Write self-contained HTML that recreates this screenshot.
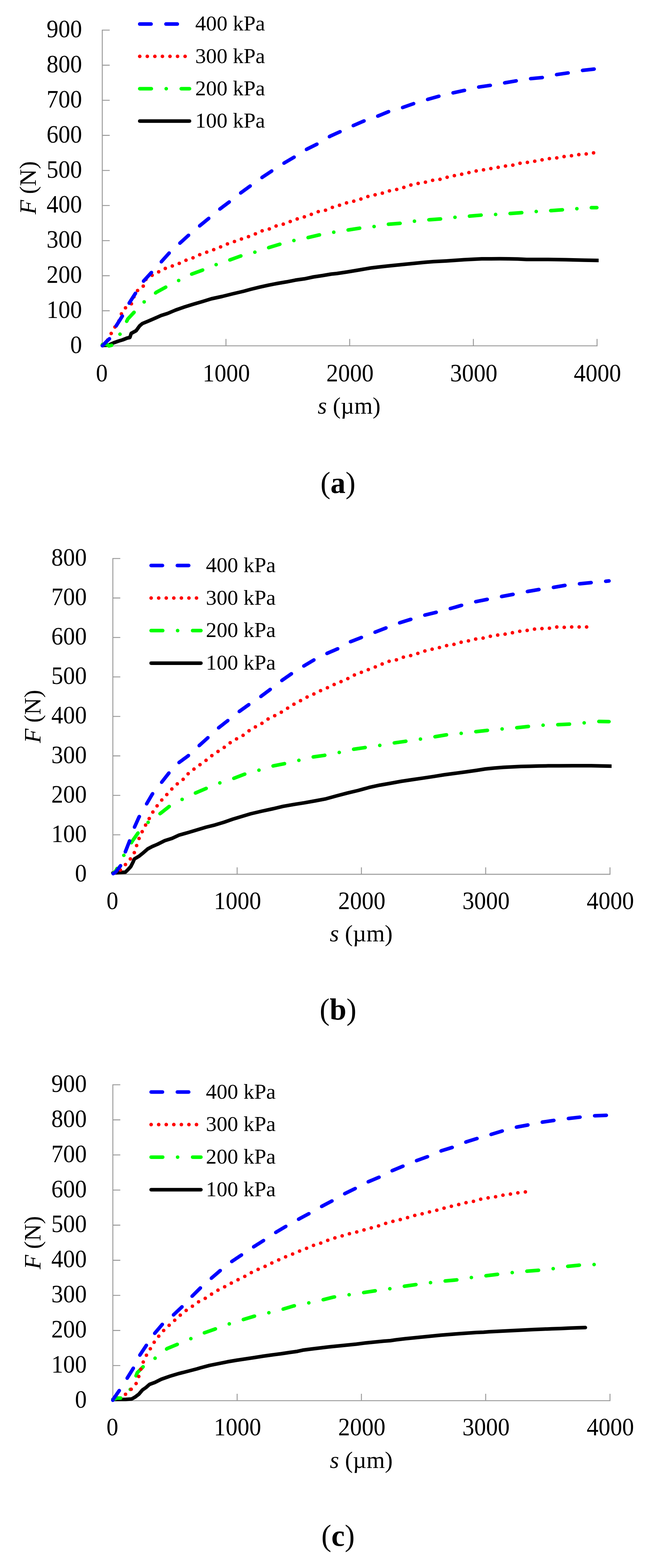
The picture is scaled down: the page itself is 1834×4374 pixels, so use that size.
<!DOCTYPE html>
<html><head><meta charset="utf-8"><title>F-s curves</title>
<style>
html,body{margin:0;padding:0;background:#fff;}
svg{display:block;}
.t{font-family:"Liberation Serif", "Times New Roman", serif;fill:#000;}
.ax{stroke:#999;stroke-width:2.6;fill:none;stroke-linecap:square;}
.ln{fill:none;stroke-width:10.0;stroke-linecap:round;stroke-linejoin:round;}
.b{stroke:#0000ff;stroke-dasharray:31.6 41.6;}
.r{stroke:#ff0000;stroke-dasharray:0 21.1;}
.g{stroke:#00ff00;stroke-dasharray:32.3 41.6 0 41.9;}
.k{stroke:#000;}
</style></head><body>
<svg width="1834" height="4374" viewBox="0 0 1834 4374">
<rect width="1834" height="4374" fill="#fff"/>
<g id="chart-a">
<clipPath id="clip-a"><rect x="255.5" y="24" width="1415.6" height="960.8"/></clipPath>
<path class="ax" d="M285.5 84 V964.8 H1666.7 M285.5 866.9 H305 M285.5 769.1 H305 M285.5 671.2 H305 M285.5 573.3 H305 M285.5 475.5 H305 M285.5 377.6 H305 M285.5 279.7 H305 M285.5 181.9 H305 M285.5 84 H305 M630.8 964.8 V946.8 M976.1 964.8 V946.8 M1321.4 964.8 V946.8 M1666.7 964.8 V946.8"/>
<text class="t" transform="translate(0 -43.3) scale(1 1.045)" x="229.1" y="984" font-size="66" text-anchor="end">0</text>
<text class="t" transform="translate(0 -38.9) scale(1 1.045)" x="229.1" y="886.1" font-size="66" text-anchor="end">100</text>
<text class="t" transform="translate(0 -34.5) scale(1 1.045)" x="229.1" y="788.3" font-size="66" text-anchor="end">200</text>
<text class="t" transform="translate(0 -30.1) scale(1 1.045)" x="229.1" y="690.4" font-size="66" text-anchor="end">300</text>
<text class="t" transform="translate(0 -25.7) scale(1 1.045)" x="229.1" y="592.5" font-size="66" text-anchor="end">400</text>
<text class="t" transform="translate(0 -21.3) scale(1 1.045)" x="229.1" y="494.7" font-size="66" text-anchor="end">500</text>
<text class="t" transform="translate(0 -16.9) scale(1 1.045)" x="229.1" y="396.8" font-size="66" text-anchor="end">600</text>
<text class="t" transform="translate(0 -12.5) scale(1 1.045)" x="229.1" y="298.9" font-size="66" text-anchor="end">700</text>
<text class="t" transform="translate(0 -8.1) scale(1 1.045)" x="229.1" y="201.1" font-size="66" text-anchor="end">800</text>
<text class="t" transform="translate(0 -3.7) scale(1 1.045)" x="229.1" y="103.2" font-size="66" text-anchor="end">900</text>
<text class="t" transform="translate(0 -46.8) scale(1 1.045)" x="284.3" y="1062.7" font-size="66" text-anchor="middle">0</text>
<text class="t" transform="translate(0 -46.8) scale(1 1.045)" x="631.8" y="1062.7" font-size="66" text-anchor="middle">1000</text>
<text class="t" transform="translate(0 -46.8) scale(1 1.045)" x="977.1" y="1062.7" font-size="66" text-anchor="middle">2000</text>
<text class="t" transform="translate(0 -46.8) scale(1 1.045)" x="1322.4" y="1062.7" font-size="66" text-anchor="middle">3000</text>
<text class="t" transform="translate(0 -46.8) scale(1 1.045)" x="1667.7" y="1062.7" font-size="66" text-anchor="middle">4000</text>
<text class="t" x="974.6" y="1154" font-size="66" text-anchor="middle"><tspan font-style="italic">s</tspan> (µm)</text>
<text class="t" transform="rotate(-90)" x="-523.8" y="100" font-size="66" text-anchor="middle"><tspan font-style="italic">F</tspan> (N)</text>
<g clip-path="url(#clip-a)">
<path class="ln" stroke="#000" stroke-width="10.0" d="M285.5 963.5 L302.5 963 L317.5 956.3 L330 951.8 L342.5 948 L355 943 L362.5 941.5 L366.3 930 L380 922.5 L390 908.8 L397.5 902.5 L412.5 896.3 L430 888.8 L450 880 L467.5 874.5 L490 865 L515 856.3 L540 848.5 L565 841.3 L590 833.5 L620 827 L650 819.5 L680 812.5 L700 807 L725 800.8 L750 795.3 L775 790.5 L800 786.3 L825 781.3 L850 777.8 L875 772.5 L900 768.8 L925 764.5 L940 763 L970 758.5 L1000 753.5 L1035 747.5 L1060 744.5 L1085 741.8 L1110 739.3 L1135 736.8 L1160 734.3 L1185 731.8 L1210 729.8 L1245 728 L1270 726.3 L1295 724.5 L1320 723.3 L1345 722 L1370 722 L1395 721.8 L1420 722 L1445 722.5 L1470 723.8 L1530 723.8 L1580 724.5 L1630 725.8 L1670 726.5 L1685 726.7"/>
<path class="ln" stroke="#00ff00" stroke-dasharray="32.5 40.6 0 40.6" stroke-dashoffset="5" d="M286 961 L297 960 L304.4 965 L318.5 961.5 L338.5 925.9 L357 889.6 L377.8 867.4 L405.2 839.3 L437.4 814.8 L462.9 800.9 L499 782.4 L534.6 764.8 L564.7 753.7 L603.1 738.4 L643.4 724.5 L671.2 714.4 L710.6 703.7 L748.6 691.2 L778.7 682 L819.4 671.3 L857.4 663.4 L889.8 655.6 L930.1 648.1 L970.8 641.7 L1003.2 636.6 L1043.5 632 L1084.3 625.5 L1116.7 623.1 L1157 617.1 L1198.5 613 L1230.9 610.6 L1271.2 606 L1311.9 602.8 L1344.4 600 L1385.1 598.1 L1425.4 595.4 L1457.8 593.1 L1499.4 589.8 L1538.8 587.5 L1571.2 585.2 L1612 582 L1652.2 579.2 L1666 579.2"/>
<path class="ln" stroke="#ff0000" stroke-dasharray="0 20.742" d="M287 964 L298.9 951.6 L308.8 933.1 L319.3 914.6 L331.4 897.5 L337.8 877.5 L347.2 860.4 L365.7 850.8 L372.6 830.7 L380.9 812.5 L399 801 L405 781 L421.2 769.9 L439.7 760.2 L458.2 750 L478.1 743 L497.6 736.1 L516.1 726.9 L535.6 720.8 L554.5 711.6 L574 704.6 L593.4 697.7 L613.3 689.8 L631.9 681.5 L652.7 674.5 L671.2 667.6 L691.1 661.1 L709.3 654.2 L727.8 644.9 L748.6 640.3 L768.5 631 L788 626.4 L808.8 618.5 L828.7 611.1 L848.1 605.6 L867.6 598.6 L887.5 590.7 L907.4 587 L926.9 578.7 L946.3 573.1 L966.2 566.2 L986.1 561.6 L1005.6 556 L1025.5 548.6 L1044.9 544 L1065.7 539.4 L1085.2 532.9 L1105.1 529.2 L1125 523.6 L1144.4 516.7 L1165.3 512 L1186.5 508.5 L1206.4 503.2 L1226.3 500.9 L1246.2 494.9 L1266.6 490.3 L1286.5 486.6 L1307.3 481.9 L1327.2 477.3 L1347.6 474.1 L1367.5 470.8 L1388.3 467.1 L1409.2 463.4 L1430 461.1 L1449.9 455.6 L1470.7 453.2 L1491.6 450 L1511.9 446.3 L1532.8 442.6 L1553.1 440.7 L1573.5 437 L1594.4 434.7 L1614.3 431.5 L1636 429.6 L1656.9 426.4 L1658.9 426.1"/>
<path class="ln" stroke="#0000ff" stroke-dasharray="32.5 40.9" stroke-dashoffset="4.9" d="M286 964.5 L299 951 L311 940 L323 911 L342 881 L361 845 L377 820 L400 785 L423.5 759.3 L451.3 729.2 L472.1 706 L502.2 678.2 L527.7 655.1 L557.8 629.6 L583.2 608.8 L613.3 583.3 L641.1 562.5 L673.5 537 L699 518.5 L732.4 494.4 L760.2 475.9 L792.6 455.1 L822.7 437.5 L857.4 415.7 L885.2 401.9 L922.2 379.6 L950 367.1 L987 350 L1017.1 337 L1056.5 323.1 L1084.3 311.6 L1123.6 300 L1155 289 L1193.9 277.3 L1226.3 268.1 L1265.6 258.8 L1298 251.9 L1337.4 242.6 L1369.8 238 L1409.2 231 L1441.6 225.5 L1480.9 219.4 L1515.6 216.2 L1555 207.9 L1587.4 203.2 L1626.8 196.3 L1659.2 192.6"/>
</g>
<path class="ln b" d="M390.1 67.1 H529"/>
<text class="t" x="545" y="85.3" font-size="60">400 kPa</text>
<path class="ln r" d="M390.1 157.3 H529"/>
<text class="t" x="545" y="175.5" font-size="60">300 kPa</text>
<path class="ln g" d="M390.1 247.5 H529"/>
<text class="t" x="545" y="265.7" font-size="60">200 kPa</text>
<path class="ln k" d="M390.1 337.7 H529"/>
<text class="t" x="545" y="355.9" font-size="60">100 kPa</text>
<text class="t" x="943.6" y="1375" font-size="84" text-anchor="middle">(<tspan font-weight="bold">a</tspan>)</text>
</g>
<g id="chart-b">
<clipPath id="clip-b"><rect x="285" y="1498" width="1422.2" height="960.9"/></clipPath>
<path class="ax" d="M315 1558 V2438.9 H1702.8 M315 2328.8 H334.5 M315 2218.7 H334.5 M315 2108.6 H334.5 M315 1998.5 H334.5 M315 1888.3 H334.5 M315 1778.2 H334.5 M315 1668.1 H334.5 M315 1558 H334.5 M662 2438.9 V2420.9 M1008.9 2438.9 V2420.9 M1355.8 2438.9 V2420.9 M1702.8 2438.9 V2420.9"/>
<text class="t" transform="translate(0 -109.6) scale(1 1.045)" x="242.2" y="2457.9" font-size="66" text-anchor="end">0</text>
<text class="t" transform="translate(0 -104.7) scale(1 1.045)" x="242.2" y="2347.8" font-size="66" text-anchor="end">100</text>
<text class="t" transform="translate(0 -99.7) scale(1 1.045)" x="242.2" y="2237.7" font-size="66" text-anchor="end">200</text>
<text class="t" transform="translate(0 -94.8) scale(1 1.045)" x="242.2" y="2127.6" font-size="66" text-anchor="end">300</text>
<text class="t" transform="translate(0 -89.8) scale(1 1.045)" x="242.2" y="2017.5" font-size="66" text-anchor="end">400</text>
<text class="t" transform="translate(0 -84.8) scale(1 1.045)" x="242.2" y="1907.3" font-size="66" text-anchor="end">500</text>
<text class="t" transform="translate(0 -79.9) scale(1 1.045)" x="242.2" y="1797.2" font-size="66" text-anchor="end">600</text>
<text class="t" transform="translate(0 -74.9) scale(1 1.045)" x="242.2" y="1687.1" font-size="66" text-anchor="end">700</text>
<text class="t" transform="translate(0 -70) scale(1 1.045)" x="242.2" y="1577" font-size="66" text-anchor="end">800</text>
<text class="t" transform="translate(0 -113.1) scale(1 1.045)" x="313.8" y="2535" font-size="66" text-anchor="middle">0</text>
<text class="t" transform="translate(0 -113.1) scale(1 1.045)" x="663" y="2535" font-size="66" text-anchor="middle">1000</text>
<text class="t" transform="translate(0 -113.1) scale(1 1.045)" x="1009.9" y="2535" font-size="66" text-anchor="middle">2000</text>
<text class="t" transform="translate(0 -113.1) scale(1 1.045)" x="1356.8" y="2535" font-size="66" text-anchor="middle">3000</text>
<text class="t" transform="translate(0 -113.1) scale(1 1.045)" x="1703.8" y="2535" font-size="66" text-anchor="middle">4000</text>
<text class="t" x="1008.3" y="2626" font-size="66" text-anchor="middle"><tspan font-style="italic">s</tspan> (µm)</text>
<text class="t" transform="rotate(-90)" x="-1998.5" y="112.6" font-size="66" text-anchor="middle"><tspan font-style="italic">F</tspan> (N)</text>
<g clip-path="url(#clip-b)">
<path class="ln" stroke="#000" stroke-width="10.0" d="M315 2435 L350 2433 L357.5 2425.5 L365 2417.5 L371.3 2405 L375 2396.3 L387.5 2388.8 L400 2378.8 L412.5 2368 L425 2361.3 L440 2355 L460 2345 L480 2338.8 L500 2329.5 L525 2322.5 L550 2315 L575 2307.5 L600 2301.3 L625 2293.8 L650 2285 L675 2277.5 L700 2270 L730 2263 L760 2256.5 L790 2249.4 L820 2244.1 L850 2239.4 L880 2234 L910 2228.3 L940 2220 L970 2212.2 L1000 2205 L1030 2196.7 L1060 2190.2 L1090 2185 L1120 2179.5 L1150 2175 L1180 2170.6 L1210 2166.1 L1240 2161.2 L1270 2157.2 L1300 2153.3 L1330 2149 L1355 2145 L1380 2142.5 L1405 2140.5 L1430 2139.3 L1455 2138 L1480 2137.5 L1505 2136.8 L1530 2136.3 L1560 2136.2 L1600 2136 L1650 2136 L1707 2137.2 L1720 2137.4"/>
<path class="ln" stroke="#00ff00" stroke-dasharray="32.5 41.2 0 41.2" stroke-dashoffset="15" d="M316 2436 L323.3 2429.6 L331.1 2414.1 L348.6 2380.4 L370 2345.4 L388.2 2319.4 L415.7 2291.9 L448.1 2268.7 L473.6 2248.8 L509.3 2229.4 L545.4 2212.2 L575.5 2199.3 L612.5 2184.4 L651.9 2171.5 L681.9 2159.9 L720.6 2149.2 L757.9 2137.5 L792.6 2130.6 L832.9 2121.3 L871.3 2112 L903.7 2107.4 L946.3 2099.1 L984.7 2090.3 L1017.1 2085.6 L1058.8 2079.6 L1098.1 2072.7 L1130.6 2068.1 L1172.2 2062 L1215 2055 L1245 2050 L1286 2046 L1327.5 2041 L1360 2037.5 L1401.5 2033.5 L1442.5 2030 L1475 2026.5 L1516.5 2023 L1557.5 2021.5 L1590 2020 L1631.5 2016.5 L1672.5 2012.5 L1700 2013"/>
<path class="ln" stroke="#ff0000" stroke-dasharray="0 20.835" d="M336 2427 L348 2414.1 L362.2 2398.5 L373.9 2381.7 L380.4 2361.6 L386.9 2342.1 L395.9 2322 L405.3 2303.6 L415.7 2284.9 L425.9 2266.4 L437.5 2249.3 L450.5 2233 L464.4 2217.8 L478.2 2202.5 L493.5 2187.7 L510.6 2174.7 L524.5 2159 L540.7 2146 L557.9 2133.5 L574.5 2121.5 L591.7 2107.6 L608.8 2096 L626.4 2084.4 L642.6 2071.9 L660.2 2061.3 L678.7 2051.1 L695.8 2038.1 L712.5 2027.9 L730.1 2018.5 L748.6 2005.6 L767.1 1996.3 L784.7 1987 L802.8 1975.5 L821.3 1963.9 L838.9 1954.6 L857.4 1944.4 L875.9 1936.1 L894.4 1926.9 L913 1919 L932.4 1909.7 L950.9 1901.9 L969.9 1893.5 L989.4 1882.9 L1007.9 1875.9 L1027.8 1868.1 L1046.3 1861.1 L1065.7 1852.8 L1085.2 1844.9 L1105.1 1841.2 L1125.9 1833.3 L1146.8 1828.7 L1166.7 1822.7 L1186 1816 L1206 1811 L1226.5 1806.5 L1246.5 1801 L1267.5 1797.5 L1287.5 1791.5 L1308.5 1787.5 L1328.5 1782.5 L1349 1780 L1369 1775 L1390 1771.5 L1410 1769 L1431 1765 L1451 1761 L1472.5 1758.5 L1492.5 1755 L1514 1753.5 L1534 1752.5 L1555 1749 L1575 1750 L1596 1749 L1616.5 1749 L1637.5 1749 L1639.5 1749"/>
<path class="ln" stroke="#0000ff" stroke-dasharray="32.5 41" stroke-dashoffset="2" d="M316 2437 L323.3 2432.2 L336.3 2415.4 L349.3 2377.8 L360.9 2348 L374.1 2310.4 L388 2279.4 L408.8 2243.2 L425 2215.5 L450.5 2183.1 L471.3 2156.7 L499.1 2127.5 L524.5 2109 L554.6 2081.2 L580.1 2058.1 L610.2 2030.3 L635.6 2010.4 L665.7 1986.3 L693.5 1966.4 L727.8 1943.1 L755.6 1922.2 L785.6 1899.1 L813.4 1879.6 L847.2 1858.3 L875.9 1841.2 L913 1822.7 L943.1 1809.7 L977.8 1790.3 L1010.2 1777.8 L1047.2 1763.4 L1079.6 1750.9 L1116.7 1737 L1149.1 1726.9 L1186.7 1715.6 L1220 1707.5 L1257.5 1697.5 L1292.5 1687.5 L1327.5 1678.5 L1362.5 1671.5 L1400 1664 L1435 1657.5 L1472.5 1650 L1507.5 1644 L1545 1638.5 L1580 1632.5 L1617.5 1628.5 L1652.5 1625 L1690 1621.5 L1700 1620.5"/>
</g>
<path class="ln b" d="M421.9 1577.5 H560.8"/>
<text class="t" x="574.7" y="1595.7" font-size="60">400 kPa</text>
<path class="ln r" d="M421.9 1668.3 H560.8"/>
<text class="t" x="574.7" y="1686.5" font-size="60">300 kPa</text>
<path class="ln g" d="M421.9 1759.1 H560.8"/>
<text class="t" x="574.7" y="1777.3" font-size="60">200 kPa</text>
<path class="ln k" d="M421.9 1849.9 H560.8"/>
<text class="t" x="574.7" y="1868.1" font-size="60">100 kPa</text>
<text class="t" x="943.6" y="2844" font-size="84" text-anchor="middle">(<tspan font-weight="bold">b</tspan>)</text>
</g>
<g id="chart-c">
<clipPath id="clip-c"><rect x="285" y="2966" width="1422.2" height="961.2"/></clipPath>
<path class="ax" d="M315 3026 V3907.2 H1702.8 M315 3809.3 H334.5 M315 3711.4 H334.5 M315 3613.5 H334.5 M315 3515.6 H334.5 M315 3417.6 H334.5 M315 3319.7 H334.5 M315 3221.8 H334.5 M315 3123.9 H334.5 M315 3026 H334.5 M662 3907.2 V3889.2 M1008.9 3907.2 V3889.2 M1355.8 3907.2 V3889.2 M1702.8 3907.2 V3889.2"/>
<text class="t" transform="translate(0 -175.7) scale(1 1.045)" x="242.2" y="3926" font-size="66" text-anchor="end">0</text>
<text class="t" transform="translate(0 -171.3) scale(1 1.045)" x="242.2" y="3828.1" font-size="66" text-anchor="end">100</text>
<text class="t" transform="translate(0 -166.9) scale(1 1.045)" x="242.2" y="3730.2" font-size="66" text-anchor="end">200</text>
<text class="t" transform="translate(0 -162.5) scale(1 1.045)" x="242.2" y="3632.3" font-size="66" text-anchor="end">300</text>
<text class="t" transform="translate(0 -158.1) scale(1 1.045)" x="242.2" y="3534.4" font-size="66" text-anchor="end">400</text>
<text class="t" transform="translate(0 -153.6) scale(1 1.045)" x="242.2" y="3436.4" font-size="66" text-anchor="end">500</text>
<text class="t" transform="translate(0 -149.2) scale(1 1.045)" x="242.2" y="3338.5" font-size="66" text-anchor="end">600</text>
<text class="t" transform="translate(0 -144.8) scale(1 1.045)" x="242.2" y="3240.6" font-size="66" text-anchor="end">700</text>
<text class="t" transform="translate(0 -140.4) scale(1 1.045)" x="242.2" y="3142.7" font-size="66" text-anchor="end">800</text>
<text class="t" transform="translate(0 -136) scale(1 1.045)" x="242.2" y="3044.8" font-size="66" text-anchor="end">900</text>
<text class="t" transform="translate(0 -179.1) scale(1 1.045)" x="313.8" y="4002.5" font-size="66" text-anchor="middle">0</text>
<text class="t" transform="translate(0 -179.1) scale(1 1.045)" x="663" y="4002.5" font-size="66" text-anchor="middle">1000</text>
<text class="t" transform="translate(0 -179.1) scale(1 1.045)" x="1009.9" y="4002.5" font-size="66" text-anchor="middle">2000</text>
<text class="t" transform="translate(0 -179.1) scale(1 1.045)" x="1356.8" y="4002.5" font-size="66" text-anchor="middle">3000</text>
<text class="t" transform="translate(0 -179.1) scale(1 1.045)" x="1703.8" y="4002.5" font-size="66" text-anchor="middle">4000</text>
<text class="t" x="1008.5" y="4094.6" font-size="66" text-anchor="middle"><tspan font-style="italic">s</tspan> (µm)</text>
<text class="t" transform="rotate(-90)" x="-3466.6" y="112.6" font-size="66" text-anchor="middle"><tspan font-style="italic">F</tspan> (N)</text>
<g clip-path="url(#clip-c)">
<path class="ln" stroke="#000" stroke-width="10.0" d="M315 3903.8 L350 3903.8 L367.5 3902.5 L377.5 3896.8 L387.5 3889.3 L397.5 3877.5 L407.5 3870.5 L417.5 3861.8 L432.5 3856.3 L450 3847.5 L475 3838.8 L500 3831.3 L525 3825 L550 3818.5 L560 3815.5 L585 3808.8 L610 3803.8 L635 3798.8 L660 3794.5 L685 3790.8 L710 3787 L735 3783 L760 3779.5 L785 3776.3 L810 3772.5 L830 3769.7 L845 3766.3 L870 3763 L895 3760 L920 3757 L945 3754.5 L970 3752 L995 3749.5 L1020 3746.3 L1045 3743.8 L1070 3741.3 L1090 3739.7 L1105 3737.5 L1130 3734.5 L1155 3732 L1180 3729.5 L1205 3727 L1230 3724.5 L1255 3722.5 L1280 3720.5 L1305 3718.8 L1330 3717 L1350 3716.3 L1365 3715 L1390 3713.8 L1415 3712.5 L1440 3711.3 L1465 3710 L1490 3708.8 L1515 3707.8 L1540 3706.8 L1565 3706 L1590 3704.8 L1610 3704 L1634 3703.3"/>
<path class="ln" stroke="#00ff00" stroke-dasharray="32.5 41.2 0 41.2" stroke-dashoffset="10" d="M315 3904 L326.3 3900 L350.4 3900 L368 3868.1 L383.3 3829 L404.2 3808.1 L435.2 3787.3 L466.7 3761.9 L494.4 3750.3 L532.9 3734.1 L570.8 3717.9 L600.9 3707.2 L639.4 3693.3 L679.6 3680.8 L709.7 3671.6 L749.1 3662.3 L789.3 3652.2 L819.4 3643 L859.6 3635.1 L901.3 3625.8 L930.5 3618.4 L973.1 3612 L1013.8 3605.9 L1043.9 3601.3 L1086.5 3595.3 L1127.2 3588.3 L1158.7 3583.7 L1200.4 3578.1 L1240.6 3573.5 L1275.4 3570.3 L1314 3564 L1355 3559 L1387.5 3555 L1429 3550 L1470 3546 L1504 3543.5 L1544 3539 L1585 3532.5 L1619 3529 L1659 3527.5"/>
<path class="ln" stroke="#ff0000" stroke-dasharray="0 21.065" d="M350.4 3889.4 L366.1 3875.6 L380 3859.4 L387.4 3839.9 L393 3820 L399.5 3800.3 L408.8 3780.4 L419.4 3762.8 L431 3743.3 L443.5 3727.1 L457.4 3710.9 L472.2 3697 L487.5 3683.1 L503.7 3668.3 L519.9 3655.4 L537 3643.8 L554.6 3631.3 L573.1 3621.6 L590.7 3610 L609.3 3598.4 L627.8 3589.2 L646.3 3579 L664.8 3569.7 L683.3 3560.5 L701.9 3549.8 L720.4 3541 L739.8 3532.7 L758.3 3523.4 L778.9 3514.2 L797 3506.1 L816.1 3498.5 L835.6 3490.2 L855.5 3482.3 L874.9 3474 L894.8 3468 L914.3 3460.1 L935.1 3453.1 L955 3447.6 L975.4 3441.6 L995.3 3436.9 L1016.1 3430.9 L1036 3425.4 L1056.4 3419.8 L1076.3 3412.9 L1097.1 3406.9 L1117 3402.2 L1137.4 3396.7 L1157.3 3390.6 L1178.1 3386 L1199 3380.7 L1219 3376 L1240 3370 L1260 3365 L1281 3360 L1301 3355 L1322.5 3351 L1342.5 3345 L1362.5 3341.5 L1383.5 3338.5 L1404 3334 L1425 3331 L1446 3327.5 L1466.5 3325 L1468.5 3324.8"/>
<path class="ln" stroke="#0000ff" stroke-dasharray="32.5 41.1" stroke-dashoffset="0.1" d="M315 3906 L316.2 3903 L332.4 3879.9 L354.6 3845.2 L371.8 3817.4 L390.3 3780.4 L408.8 3752.6 L431.9 3719.3 L452.8 3694.7 L482.9 3669.3 L508.3 3645.2 L536.1 3616 L559.3 3592.9 L590.7 3565.1 L614.8 3544.3 L647.2 3518.8 L675 3500.3 L707.4 3478.5 L735.2 3460.9 L769.9 3437.8 L798.5 3420.7 L835.6 3399.9 L863.3 3385.1 L898.1 3365.2 L927.2 3349.9 L962.9 3329.5 L992 3315.2 L1027.7 3296.7 L1057.8 3284.2 L1094.8 3265.6 L1124.9 3253.1 L1162 3237.9 L1194.4 3226.3 L1232.5 3210 L1265 3200 L1302.5 3185 L1335 3175 L1372.5 3164 L1405 3154 L1442.5 3144 L1477.5 3137.5 L1515 3130 L1550 3125 L1587.5 3120 L1622.5 3116 L1660 3112.5 L1697.5 3111"/>
</g>
<path class="ln b" d="M421.9 3046.3 H560.8"/>
<text class="t" x="574.7" y="3064.5" font-size="60">400 kPa</text>
<path class="ln r" d="M421.9 3137.1 H560.8"/>
<text class="t" x="574.7" y="3155.3" font-size="60">300 kPa</text>
<path class="ln g" d="M421.9 3227.9 H560.8"/>
<text class="t" x="574.7" y="3246.1" font-size="60">200 kPa</text>
<path class="ln k" d="M421.9 3318.7 H560.8"/>
<text class="t" x="574.7" y="3336.9" font-size="60">100 kPa</text>
<text class="t" x="943.6" y="4312" font-size="84" text-anchor="middle">(<tspan font-weight="bold">c</tspan>)</text>
</g>
</svg>
</body></html>
